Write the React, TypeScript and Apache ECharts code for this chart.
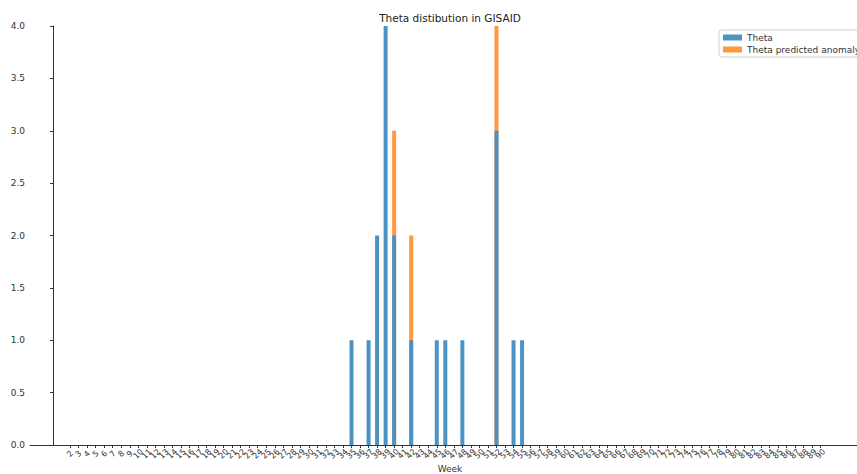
import React, { useEffect, useRef } from "react";
import * as echarts from "echarts";

const weekTicks = [
  2, 3, 4, 5, 6, 7, 8, 9, 10, 11, 12, 13, 14, 15, 16, 17, 18, 19, 20, 21, 22, 23, 24, 25, 26, 27, 28, 29, 30, 31,
  32, 33, 34, 35, 36, 37, 38, 39, 40, 41, 42, 43, 44, 45, 46, 47, 48, 49, 50, 51, 52, 53, 54, 55, 56, 57, 58, 59, 60, 61,
  62, 63, 64, 65, 66, 67, 68, 69, 70, 71, 72, 73, 74, 75, 76, 77, 78, 79, 80, 81, 82, 83, 84, 85, 86, 87, 88, 89, 90, 91,
];
const barWeeks = [35, 37, 38, 39, 40, 42, 45, 46, 48, 52, 54, 55];
const thetaCounts = [1, 1, 2, 4, 2, 1, 1, 1, 1, 3, 1, 1];
const anomalyCounts = [0, 0, 0, 0, 1, 1, 0, 0, 0, 1, 0, 0];

const BLUE = "#4c92c3";
const ORANGE = "#ff993e";

export default function App() {
  const ref = useRef<HTMLDivElement>(null);
  useEffect(() => {
    if (!ref.current) return;
    const chart = echarts.init(ref.current, null, { renderer: "svg" });
    const font = "DejaVu Sans";
    // anomaly bars sit on top of the theta bars: drawn as the stacked total behind the theta bar
    const anomalyStacked = barWeeks
      .map((w, i) => (anomalyCounts[i] > 0 ? [w, thetaCounts[i] + anomalyCounts[i]] : null))
      .filter((d) => d !== null);
    chart.setOption({
      animation: false,
      textStyle: { fontFamily: font },
      graphic: [
        {
          type: "text",
          x: 450,
          y: 18,
          style: {
            text: "Theta distibution in GISAID",
            fontSize: 10.5,
            fontFamily: font,
            fill: "#222",
            textAlign: "center",
            textVerticalAlign: "middle",
          },
        },
      ],
      legend: {
        left: 719,
        top: 30,
        orient: "vertical",
        icon: "rect",
        itemWidth: 19,
        itemHeight: 6,
        itemGap: 3,
        padding: [3, 4, 3, 4],
        borderColor: "#d0d0d0",
        borderWidth: 1,
        borderRadius: 3,
        backgroundColor: "#fff",
        textStyle: { fontSize: 9, color: "#333", fontFamily: font },
        data: ["Theta", "Theta predicted anomaly"],
      },
      grid: {
        left: 30,
        right: -13,
        top: 26,
        bottom: 29,
        containLabel: false,
        outerBoundsMode: "none",
      },
      xAxis: {
        type: "value",
        min: -2.7,
        max: 95.8,
        name: "Week",
        nameLocation: "middle",
        nameGap: 19,
        nameMoveOverlap: false,
        nameTextStyle: { fontSize: 9, color: "#333" },
        splitLine: { show: false },
        axisLine: { lineStyle: { color: "#333", width: 1 } },
        axisTick: { customValues: weekTicks, length: 3, lineStyle: { color: "#333" } },
        axisLabel: {
          customValues: weekTicks,
          rotate: 45,
          align: "center",
          verticalAlign: "middle",
          fontSize: 8,
          color: "#333",
          margin: 9,
        },
      },
      yAxis: {
        type: "value",
        min: 0,
        max: 4,
        interval: 0.5,
        splitLine: { show: false },
        axisLine: { show: true, lineStyle: { color: "#333", width: 1 } },
        axisTick: { show: true, length: 3, lineStyle: { color: "#333" } },
        axisLabel: {
          fontSize: 9,
          color: "#333",
          margin: 5,
          formatter: (v: number) => v.toFixed(1),
        },
      },
      series: [
        {
          name: "Theta predicted anomaly",
          type: "bar",
          barWidth: 4,
          barGap: "-100%",
          z: 1,
          itemStyle: { color: ORANGE },
          data: anomalyStacked,
        },
        {
          name: "Theta",
          type: "bar",
          barWidth: 4,
          barGap: "-100%",
          z: 2,
          itemStyle: { color: BLUE },
          data: barWeeks.map((w, i) => [w, thetaCounts[i]]),
        },
      ],
    });
    return () => chart.dispose();
  }, []);
  return <div ref={ref} style={{ width: 857, height: 474, position: "absolute", left: 0, top: 0 }} />;
}
